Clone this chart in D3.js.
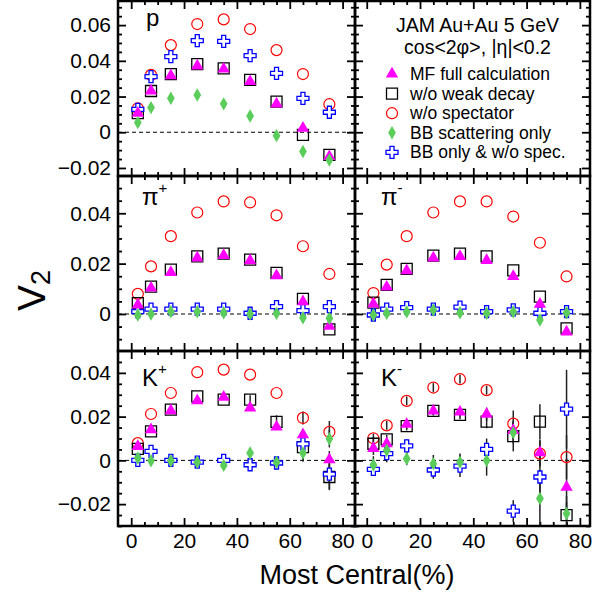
<!DOCTYPE html>
<html><head><meta charset="utf-8">
<script src="https://cdn.jsdelivr.net/npm/d3@7"></script>
<style>
body{margin:0;background:#fff}
svg text{font-family:"Liberation Sans",Arial,Helvetica,sans-serif;fill:#000}
</style>
</head><body>
<svg id="chart" width="611" height="597"></svg>
<script>
// ---------------- data ----------------
const centrality = [2.5, 7.5, 15, 25, 35, 45, 55, 65, 75];
const xTickValues = [0, 20, 40, 60, 80];
const yTickRow0 = [-0.02, 0, 0.02, 0.04, 0.06];
const yTickRow1 = [0, 0.02, 0.04];
const yTickRow2 = [-0.02, 0, 0.02, 0.04];
const seriesNames = ["MF full calculation", "w/o weak decay", "w/o spectator", "BB scattering only", "BB only & w/o spec."];
const titleLines = ["JAM Au+Au 5 GeV", "cos<2\u03c6>, |\u03b7|<0.2"];

// proton
const p_MF       = [0.0107, 0.0231, 0.0317, 0.0371, 0.0354, 0.0284, 0.0159, 0.0023, -0.0136];
const p_noWeak   = [0.0107, 0.0231, 0.0326, 0.0381, 0.0358, 0.0293, 0.0171, -0.0015, -0.0127];
const p_noSpec   = [0.0134, 0.0321, 0.0488, 0.0606, 0.0632, 0.0578, 0.0460, 0.0326, 0.0157];
const p_BB       = [0.0054, 0.0138, 0.0190, 0.0209, 0.0159, 0.0091, -0.0019, -0.0108, -0.0155];
const p_BBnoSpec = [0.0128, 0.0311, 0.0423, 0.0513, 0.0509, 0.0429, 0.0330, 0.0190, 0.0112];

// pi+
const pip_MF       = [0.0036, 0.0103, 0.0165, 0.0223, 0.0233, 0.0212, 0.0152, 0.0049, -0.0048];
const pip_noWeak   = [0.0043, 0.0109, 0.0176, 0.0229, 0.0240, 0.0216, 0.0163, 0.0060, -0.0061];
const pip_noSpec   = [0.0080, 0.0189, 0.0309, 0.0403, 0.0447, 0.0443, 0.0392, 0.0269, 0.0159];
const pip_BB       = [-0.0004, 0.0000, 0.0009, 0.0009, 0.0005, 0.0000, 0.0003, -0.0015, -0.0017];
const pip_BBnoSpec = [0.0009, 0.0019, 0.0019, 0.0019, 0.0019, 0.0003, 0.0029, 0.0013, 0.0029];

// pi-
const pim_MF       = [0.0040, 0.0107, 0.0172, 0.0223, 0.0229, 0.0213, 0.0149, 0.0039, -0.0071];
const pim_noWeak   = [0.0045, 0.0116, 0.0179, 0.0232, 0.0240, 0.0229, 0.0173, 0.0069, -0.0057];
const pim_noSpec   = [0.0083, 0.0196, 0.0309, 0.0403, 0.0447, 0.0447, 0.0387, 0.0283, 0.0149];
const pim_BB       = [-0.0004, 0.0003, 0.0009, 0.0016, 0.0005, 0.0003, 0.0009, -0.0024, 0.0005];
const pim_BBnoSpec = [-0.0004, 0.0019, 0.0025, 0.0019, 0.0027, 0.0009, 0.0016, 0.0003, 0.0009];

// K+
const kp_MF       = [0.0064, 0.0140, 0.0227, 0.0273, 0.0289, 0.0240, 0.0153, 0.0118, 0.0003];
const kp_noWeak   = [0.0053, 0.0133, 0.0232, 0.0293, 0.0278, 0.0278, 0.0176, 0.0061, -0.0076];
const kp_noSpec   = [0.0079, 0.0212, 0.0308, 0.0403, 0.0415, 0.0392, 0.0308, 0.0194, 0.0130];
const kp_BB       = [0.0011, -0.0002, -0.0002, -0.0008, -0.0023, 0.0034, -0.0008, 0.0034, 0.0099];
const kp_BBnoSpec = [0.0000, 0.0041, 0.0000, -0.0008, 0.0000, -0.0020, -0.0012, 0.0075, -0.0063];
const kp_MF_err       = [0, 0, 0, 0, 0, 0, 0.001, 0.002, 0.004];
const kp_noWeak_err   = [0, 0, 0, 0, 0, 0.002, 0.003, 0.006, 0.006];
const kp_noSpec_err   = [0, 0, 0, 0, 0, 0, 0, 0.003, 0.005];
const kp_BB_err       = [0, 0, 0, 0, 0, 0.001, 0.001, 0.004, 0.004];
const kp_BBnoSpec_err = [0, 0, 0, 0, 0, 0, 0.003, 0.003, 0.007];

// K-
const km_MF       = [0.0055, 0.0076, 0.0165, 0.0226, 0.0221, 0.0211, 0.0137, 0.0035, -0.0122];
const km_noWeak   = [0.0076, 0.0096, 0.0157, 0.0226, 0.0208, 0.0177, 0.0111, 0.0177, -0.0250];
const km_noSpec   = [0.0101, 0.0160, 0.0272, 0.0333, 0.0371, 0.0321, 0.0168, 0.0031, 0.0015];
const km_BB       = [-0.0021, 0.0046, 0.0008, -0.0015, -0.0008, 0.0000, 0.0127, -0.0174, -0.0243];
const km_BBnoSpec = [-0.0041, 0.0031, 0.0066, -0.0044, -0.0026, 0.0050, -0.0232, -0.0076, 0.0234];
const km_MF_err       = [0.003, 0.002, 0.002, 0.002, 0.002, 0.003, 0.004, 0.006, 0.013];
const km_noWeak_err   = [0.003, 0.002, 0.002, 0.002, 0.002, 0.003, 0.007, 0.008, 0.006];
const km_noSpec_err   = [0.002, 0.002, 0.002, 0.002, 0.002, 0.002, 0.006, 0.006, 0.010];
const km_BB_err       = [0.004, 0.004, 0.003, 0.004, 0.004, 0.007, 0.005, 0.013, 0.008];
const km_BBnoSpec_err = [0.003, 0.004, 0.003, 0.004, 0.005, 0.005, 0.005, 0.010, 0.018];

// ---------------- layout ----------------
const svg = d3.select("#chart");
const colX = [[118, 355], [355, 590]];
const rowY = [[1, 176], [176, 351], [351, 526]];
const xDomains = [[-5, 84.7], [-4.4, 83.8]];
const yDomains = [[-0.0245, 0.0735], [-0.0147, 0.0548], [-0.03, 0.05]];
const yTicksByRow = [yTickRow0, yTickRow1, yTickRow2];

const styles = {
  MF:       {sym: d3.symbolTriangle, size: 66, fill: "#ff00ff", stroke: "none", sw: 0},
  noWeak:   {sym: d3.symbolSquare,   size: 121, fill: "none", stroke: "#000", sw: 1.3},
  noSpec:   {sym: d3.symbolCircle,   size: 95, fill: "none", stroke: "#ff0000", sw: 1.2},
  BB:       {sym: d3.symbolDiamond,  size: 52, fill: "#5acd5a", stroke: "none", sw: 0},
  BBnoSpec: {sym: d3.symbolCross,    size: 80, fill: "#fff", stroke: "#0000ff", sw: 1.3}
};
const legendOrder = ["MF", "noWeak", "noSpec", "BB", "BBnoSpec"];
const drawOrder = ["noSpec", "noWeak", "BBnoSpec", "MF", "BB"];

const panels = [
  {row: 0, col: 0, label: "p", sup: "", data: {MF: p_MF, noWeak: p_noWeak, noSpec: p_noSpec, BB: p_BB, BBnoSpec: p_BBnoSpec}},
  {row: 0, col: 1, legend: true},
  {row: 1, col: 0, label: "\u03c0", sup: "+", data: {MF: pip_MF, noWeak: pip_noWeak, noSpec: pip_noSpec, BB: pip_BB, BBnoSpec: pip_BBnoSpec}},
  {row: 1, col: 1, label: "\u03c0", sup: "-", data: {MF: pim_MF, noWeak: pim_noWeak, noSpec: pim_noSpec, BB: pim_BB, BBnoSpec: pim_BBnoSpec}},
  {row: 2, col: 0, label: "K", sup: "+", data: {MF: kp_MF, noWeak: kp_noWeak, noSpec: kp_noSpec, BB: kp_BB, BBnoSpec: kp_BBnoSpec},
    err: {MF: kp_MF_err, noWeak: kp_noWeak_err, noSpec: kp_noSpec_err, BB: kp_BB_err, BBnoSpec: kp_BBnoSpec_err}},
  {row: 2, col: 1, label: "K", sup: "-", data: {MF: km_MF, noWeak: km_noWeak, noSpec: km_noSpec, BB: km_BB, BBnoSpec: km_BBnoSpec},
    err: {MF: km_MF_err, noWeak: km_noWeak_err, noSpec: km_noSpec_err, BB: km_BB_err, BBnoSpec: km_BBnoSpec_err}}
];

const fmtY = v => v === 0 ? "0" : d3.format(".2f")(v);
const fontTick = 21;

panels.forEach((P, pi) => {
  const [x0, x1] = colX[P.col];
  const [y0, y1] = rowY[P.row];
  const x = d3.scaleLinear().domain(xDomains[P.col]).range([x0, x1]);
  const y = d3.scaleLinear().domain(yDomains[P.row]).range([y1, y0]);
  const g = svg.append("g");
  const clipId = "clip" + pi;
  svg.append("clipPath").attr("id", clipId).append("rect")
    .attr("x", x0).attr("y", y0).attr("width", x1 - x0).attr("height", y1 - y0);

  const xMinor = d3.range(5, 85, 5).filter(v => v % 20 !== 0);
  const yd = yDomains[P.row];
  const yMinor = d3.range(Math.ceil(yd[0] / 0.005) * 0.005, yd[1], 0.005)
    .map(v => +v.toFixed(4)).filter(v => Math.abs((v / 0.02) - Math.round(v / 0.02)) > 1e-6);
  const yMajor = yTicksByRow[P.row];

  const showX = P.row === 2, showY = P.col === 0;

  function addAxis(axis, tr, vals, len, labels) {
    const a = axis.tickValues(vals).tickSizeInner(-len).tickSizeOuter(0).tickPadding(7);
    if (!labels) a.tickFormat(() => "");
    const ag = g.append("g").attr("transform", tr).call(a);
    ag.select(".domain").remove();
    ag.selectAll("line").attr("stroke", "#000").attr("stroke-width", 1.8);
    ag.selectAll("text").attr("font-size", fontTick).attr("font-family", "Liberation Sans, Arial, sans-serif").attr("fill", "#000");
    if (!labels) ag.selectAll("text").remove();
    return ag;
  }
  addAxis(d3.axisBottom(x).tickFormat(d3.format("d")), `translate(0,${y1})`, xTickValues, 8, showX);
  addAxis(d3.axisBottom(x), `translate(0,${y1})`, xMinor, 4, false);
  addAxis(d3.axisTop(x), `translate(0,${y0})`, xTickValues, 8, false);
  addAxis(d3.axisTop(x), `translate(0,${y0})`, xMinor, 4, false);
  addAxis(d3.axisLeft(y).tickFormat(fmtY), `translate(${x0},0)`, yMajor, 8, showY);
  addAxis(d3.axisLeft(y), `translate(${x0},0)`, yMinor, 4, false);
  addAxis(d3.axisRight(y), `translate(${x1},0)`, yMajor, 8, false);
  addAxis(d3.axisRight(y), `translate(${x1},0)`, yMinor, 4, false);

  if (!P.legend) {
    g.append("line").attr("x1", x0).attr("x2", x1).attr("y1", y(0)).attr("y2", y(0))
      .attr("stroke", "#000").attr("stroke-width", 1).attr("stroke-dasharray", "4,3");
    const plot = g.append("g").attr("clip-path", `url(#${clipId})`);
    if (P.err) {
      drawOrder.forEach(k => {
        const vals = P.data[k], errs = P.err[k];
        plot.selectAll(null).data(centrality.map((c, i) => ({c, v: vals[i], e: errs[i]})).filter(d => d.e > 0))
          .enter().append("line")
          .attr("x1", d => x(d.c)).attr("x2", d => x(d.c))
          .attr("y1", d => y(d.v - d.e)).attr("y2", d => y(d.v + d.e))
          .attr("stroke", "#222").attr("stroke-width", 1.5);
      });
    }
    drawOrder.forEach(k => {
      const s = styles[k];
      const vals = P.data[k];
      plot.selectAll(null).data(centrality.map((c, i) => ({c, v: vals[i]})))
        .enter().append("path")
        .attr("d", d3.symbol().type(s.sym).size(s.size))
        .attr("transform", d => `translate(${x(d.c)},${y(d.v)})`)
        .attr("fill", s.fill).attr("stroke", s.stroke).attr("stroke-width", s.sw);
    });
    const lx = P.col === 0 ? (P.row === 0 ? 146 : 142) : 381;
    const ly = P.row === 0 ? 26 : (P.row === 1 ? 205 : 386);
    const t = g.append("text").attr("x", lx).attr("y", ly).attr("font-size", 24).text(P.label);
    if (P.sup) t.append("tspan").attr("dy", -12).attr("font-size", 15).text(P.sup);
  } else {
    const cx = (x0 + x1) / 2 + 5;
    g.append("text").attr("x", cx).attr("y", 32).attr("text-anchor", "middle").attr("font-size", 19.5).text(titleLines[0]);
    g.append("text").attr("x", cx).attr("y", 54).attr("text-anchor", "middle").attr("font-size", 19.5).text(titleLines[1]);
    const baseY = [80, 99.6, 119.2, 138.8, 158.4];
    legendOrder.forEach((k, i) => {
      const s = styles[k];
      g.append("path").attr("d", d3.symbol().type(s.sym).size(s.size)())
        .attr("transform", `translate(392,${baseY[i] - 6})`)
        .attr("fill", s.fill).attr("stroke", s.stroke).attr("stroke-width", s.sw);
      g.append("text").attr("x", 410).attr("y", baseY[i]).attr("font-size", 17.5).text(seriesNames[i]);
    });
  }
  g.append("rect").attr("x", x0).attr("y", y0).attr("width", x1 - x0).attr("height", y1 - y0)
    .attr("fill", "none").attr("stroke", "#000").attr("stroke-width", 2.5);
});

svg.append("text").attr("x", 357).attr("y", 584).attr("text-anchor", "middle").attr("font-size", 27).text("Most Central(%)");
const yt = svg.append("text").attr("transform", "translate(45,311) rotate(-90)").attr("font-size", 39);
yt.append("tspan").text("V");
yt.append("tspan").attr("dy", 5).attr("font-size", 27).text("2");
</script>
</body></html>
